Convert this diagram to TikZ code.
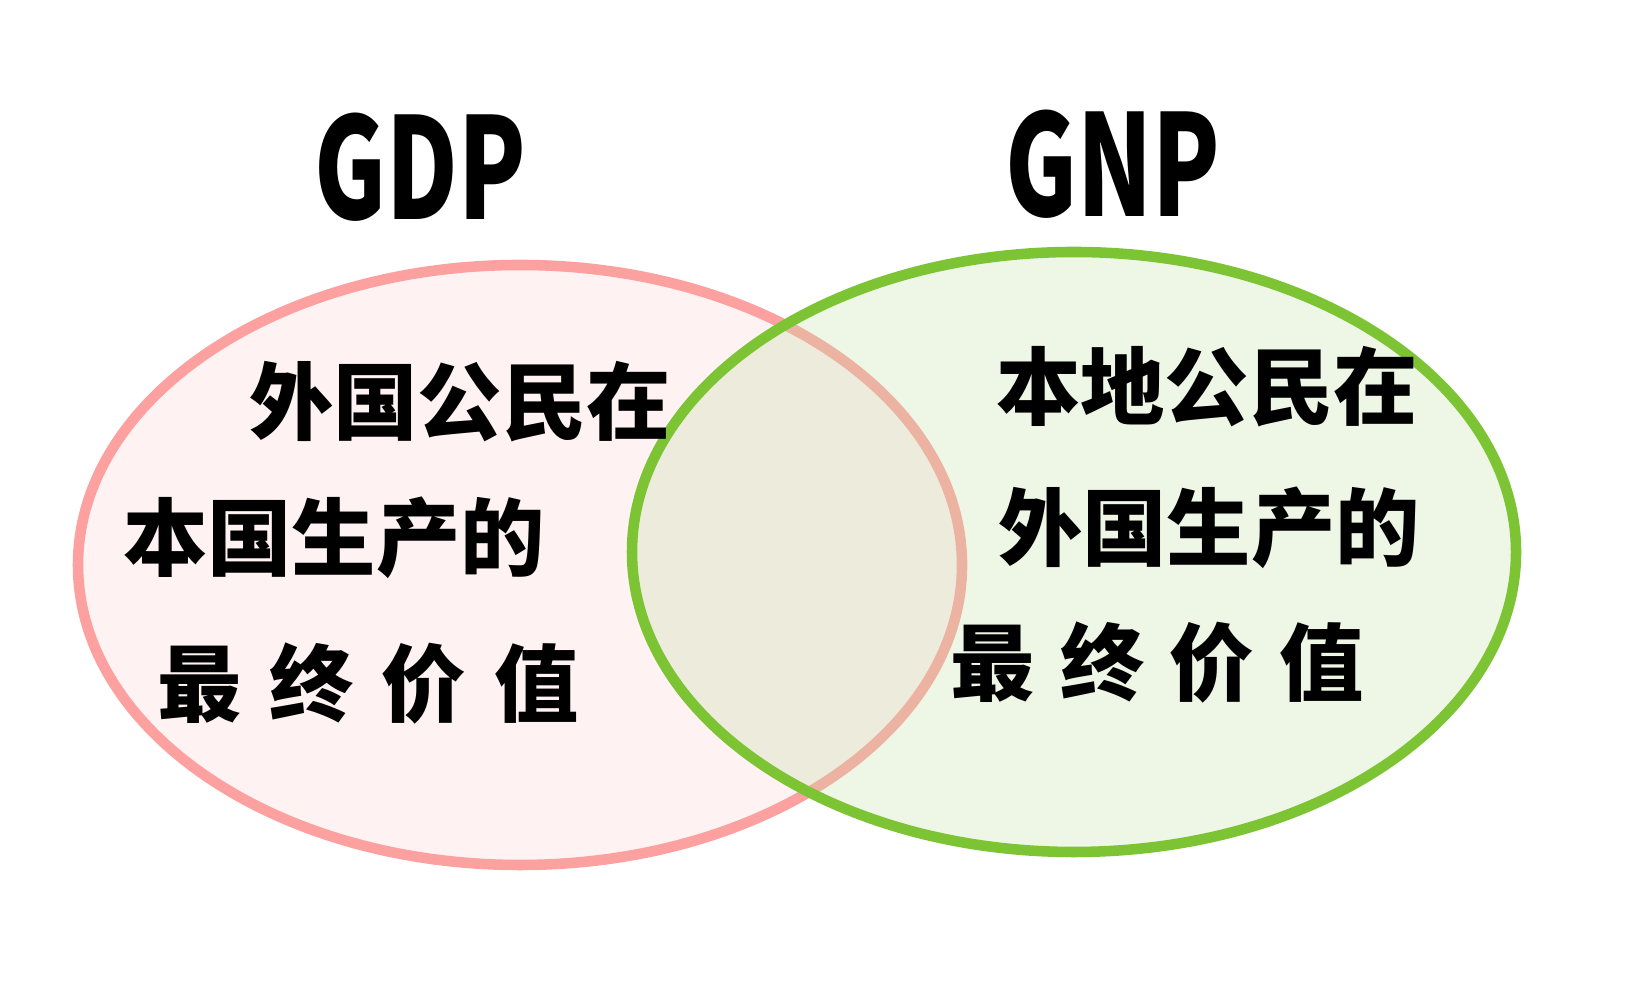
\documentclass[tikz,border=0pt]{standalone}
\usepackage{fontspec}
\newfontfamily\cjk{Noto Sans CJK SC}
\usepackage{tikz}
\usetikzlibrary{positioning}

\definecolor{gdpline}{RGB}{252,160,160}
\definecolor{gdpfill}{RGB}{254,242,242}
\definecolor{gnpline}{RGB}{125,196,52}
\definecolor{gnpfill}{RGB}{200,225,170}

\begin{document}
\begin{tikzpicture}[
        title/.style={font=\cjk\bfseries\fontsize{40}{42}\selectfont, inner sep=0pt, xscale=0.7, transform shape},
        line/.style={font=\cjk\bfseries\fontsize{24}{26}\selectfont, inner sep=0pt},
        wide/.style={line}
    ]
    \useasboundingbox (0,0) rectangle (16.38,10);

    % Sets
    \draw[gdpline, line width=3pt, fill=gdpfill] (5.20,4.35) ellipse [x radius=4.42, y radius=3.00];
    \fill[gnpfill, fill opacity=0.3] (10.74,4.48) ellipse [x radius=4.42, y radius=3.00];
    \draw[gnpline, line width=3pt] (10.74,4.48) ellipse [x radius=4.42, y radius=3.00];

    % Titles
    \node[title] (gdp) at (4.20,8.33) {GDP};
    \node[title] (gnp) at (11.13,8.36) {GNP};

    % GDP text
    \node[line] (gdpa) at (4.60,5.98) {外国公民在};
    \node[line] (gdpb) at (3.34,4.62) {本国生产的};
    \node[wide] (gdpc) at (3.68,3.16) {最\hspace{0.33em}终\hspace{0.33em}价\hspace{0.33em}值};

    % GNP text
    \node[line] (gnpa) at (12.07,6.13) {本地公民在};
    \node[line] (gnpb) at (12.09,4.72) {外国生产的};
    \node[wide] (gnpc) at (11.57,3.37) {最\hspace{0.3em}终\hspace{0.3em}价\hspace{0.3em}值};

\end{tikzpicture}
\end{document}
